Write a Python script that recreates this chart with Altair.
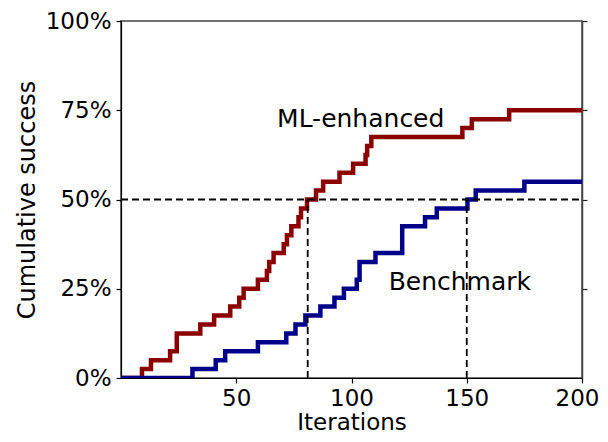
import altair as alt
import pandas as pd

# ---- data ----
ml_iter = [0, 9.1, 13, 21.3, 24.2, 34.4, 40.4, 47.4, 51.3, 53.2, 59.4, 63.3, 64.3, 66.2,
           70.6, 72, 73.9, 77, 78.1, 80.7, 84.6, 87.7, 94.8, 100.7, 106.1, 106.8, 108.6,
           148.1, 152.2, 168.4, 200]
ml_success = [0, 0.025, 0.05, 0.075, 0.125, 0.15, 0.175, 0.20, 0.225, 0.25, 0.275, 0.30,
              0.325, 0.35, 0.375, 0.40, 0.425, 0.45, 0.475, 0.50, 0.525, 0.55, 0.575, 0.60,
              0.625, 0.65, 0.675, 0.70, 0.725, 0.75, 0.75]
bm_iter = [0, 31, 41.1, 45.2, 59.4, 71.7, 75.7, 80, 86.5, 92.6, 96.7, 102.3, 103.5, 110.4,
           122, 131.9, 137, 150.3, 153.9, 175, 200]
bm_success = [0, 0.025, 0.05, 0.075, 0.10, 0.125, 0.15, 0.175, 0.20, 0.225, 0.25, 0.275,
              0.325, 0.35, 0.425, 0.45, 0.475, 0.50, 0.525, 0.55, 0.55]
series_names = ["ML-enhanced", "Benchmark"]
series_colors = ["#8b0000", "#00008b"]
ref_level = [0.5]
ref_iters = [81, 150]
label_x = [104, 147]
label_y = [0.725, 0.27]

FONT = "DejaVu Sans"

df = pd.concat([
    pd.DataFrame({"iter": ml_iter, "succ": ml_success, "series": series_names[0]}),
    pd.DataFrame({"iter": bm_iter, "succ": bm_success, "series": series_names[1]}),
])
hdf = pd.DataFrame({"x0": [0], "x1": [200], "y": ref_level})
vdf = pd.DataFrame({"x": ref_iters, "y0": [0, 0], "y1": [ref_level[0]] * 2})
tdf = pd.DataFrame({"x": label_x, "y": label_y, "text": series_names})

xscale = alt.Scale(domain=[0, 200], nice=False)
yscale = alt.Scale(domain=[0, 1], nice=False)

xaxis = alt.Axis(values=[50, 100, 150, 200], title="Iterations", labelFlush=True,
                 labelFlushOffset=17, labelOverlap=False, tickSize=5, labelPadding=4,
                 titlePadding=1, labelFontSize=23, titleFontSize=23)
yaxis = alt.Axis(values=[0, 0.25, 0.5, 0.75, 1.0], format=".0%", title="Cumulative success",
                 labelFlush=False, labelOverlap=False, tickSize=5, labelPadding=5,
                 titlePadding=6, labelFontSize=23)

lines = alt.Chart(df).mark_line(interpolate="step-after", strokeWidth=4.5, clip=True).encode(
    x=alt.X("iter:Q", scale=xscale, axis=xaxis),
    y=alt.Y("succ:Q", scale=yscale, axis=yaxis),
    color=alt.Color("series:N", scale=alt.Scale(domain=series_names, range=series_colors),
                    legend=None),
    detail="series:N",
)

hrule = alt.Chart(hdf).mark_rule(color="black", strokeWidth=1.8, strokeDash=[7, 4]).encode(
    x=alt.X("x0:Q", scale=xscale),
    x2="x1:Q",
    y=alt.Y("y:Q", scale=yscale,
            axis=alt.Axis(orient="right", values=[0.25, 0.5, 0.75, 1.0], labels=False,
                          title=None, tickSize=5, domainColor="#444444", domainWidth=1.5,
                          tickColor="#222222")),
)

vrule = alt.Chart(vdf).mark_rule(color="black", strokeWidth=1.8, strokeDash=[7, 4]).encode(
    x=alt.X("x:Q", scale=xscale),
    y=alt.Y("y0:Q", scale=yscale),
    y2="y1:Q",
)

texts = alt.Chart(tdf).mark_text(font=FONT, fontSize=25, color="black", align="center",
                                 baseline="middle").encode(
    x=alt.X("x:Q", scale=xscale),
    y=alt.Y("y:Q", scale=yscale),
    text="text:N",
)

left = alt.layer(lines, texts, vrule)
chart = alt.layer(left, hrule).resolve_axis(y="independent").properties(
    width=461, height=357,
    padding={"left": 113, "top": 13, "right": 17, "bottom": 56},
    autosize="none",
).configure_view(
    stroke="#444444", strokeWidth=1.5,
).configure_axis(
    grid=False, domainColor="black", domainWidth=1.2, tickColor="black", tickWidth=1.2,
    labelColor="black", titleColor="black", labelFont=FONT, titleFont=FONT,
    labelFontSize=24, titleFontSize=24, titleFontWeight="normal",
)

chart.save("out.html", embed_options={"renderer": "svg", "actions": False})
